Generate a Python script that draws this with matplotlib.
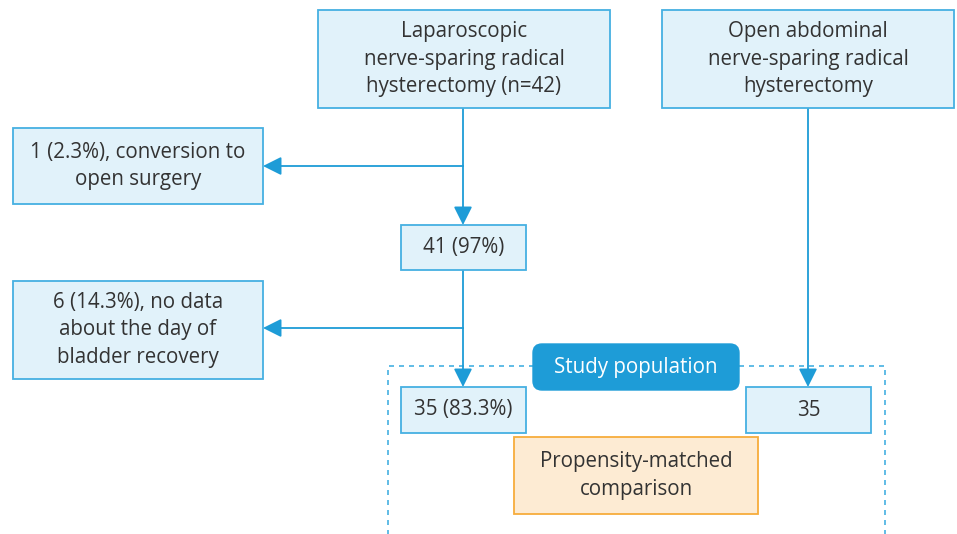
import matplotlib.pyplot as plt
from matplotlib.patches import Rectangle, FancyBboxPatch

# box texts
lap_text = "Laparoscopic\nnerve-sparing radical\nhysterectomy (n=42)"
open_text = "Open abdominal\nnerve-sparing radical\nhysterectomy"
excl_texts = ["1 (2.3%), conversion to\nopen surgery",
              "6 (14.3%), no data\nabout the day of\nbladder recovery"]
count_texts = ["41 (97%)", "35 (83.3%)", "35"]
study_label = "Study population"
compare_text = "Propensity-matched\ncomparison"

BLUE = "#1E9CD7"
EDGE = "#45B0E2"
FILL = "#E1F2FA"
TXT = "#333333"
FS = 14.8

plt.rcParams['font.family'] = ['Open Sans', 'DejaVu Sans']

fig = plt.figure(figsize=(9.57, 5.34), dpi=100)
ax = fig.add_axes([0, 0, 1, 1])
ax.set_xlim(0, 957)
ax.set_ylim(534, 0)
ax.axis('off')


def box(x0, y0, x1, y1, text, fc=FILL, ec=EDGE, color=TXT):
    ax.add_patch(Rectangle((x0, y0), x1 - x0, y1 - y0, fc=fc, ec=ec, lw=1.3, zorder=3))
    ax.text((x0 + x1) / 2, (y0 + y1) / 2, text, ha='center', va='center',
            fontsize=FS, color=color, linespacing=1.4, zorder=4)


def arrow(x0, y0, x1, y1):
    ax.annotate("", xy=(x1, y1), xytext=(x0, y0),
                arrowprops=dict(arrowstyle='-|>,head_length=0.8,head_width=0.4',
                                color=BLUE, lw=1.3, mutation_scale=14,
                                shrinkA=0, shrinkB=0), zorder=2)


# dashed study frame
ax.plot([388, 388, 885, 885], [540, 366, 366, 540], ls=(0, (3, 3)),
        color=EDGE, lw=1.2, zorder=1)

# lines and arrows
ax.plot([463, 463], [108, 166], color=BLUE, lw=1.3, zorder=2)
arrow(463, 166, 463, 225)
arrow(463, 166, 263, 166)
ax.plot([463, 463], [270, 328], color=BLUE, lw=1.3, zorder=2)
arrow(463, 328, 463, 387)
arrow(463, 328, 263, 328)
arrow(808, 108, 808, 387)

box(318, 10, 610, 108, lap_text)
box(662, 10, 954, 108, open_text)
box(13, 128, 263, 204, excl_texts[0])
box(401, 225, 526, 270, count_texts[0])
box(13, 281, 263, 379, excl_texts[1])
box(401, 387, 526, 433, count_texts[1])
box(746, 387, 871, 433, count_texts[2])
box(514, 437, 758, 514, compare_text, fc="#FDEBD3", ec="#F7AC3C")

# study population badge
ax.add_patch(FancyBboxPatch((533, 344), 206, 46, boxstyle="round,pad=0,rounding_size=9",
                            fc=BLUE, ec=BLUE, lw=1, zorder=3))
ax.text(636, 367, study_label, ha='center', va='center', fontsize=FS,
        color='white', zorder=4)

fig.savefig("out.png", dpi=100)
